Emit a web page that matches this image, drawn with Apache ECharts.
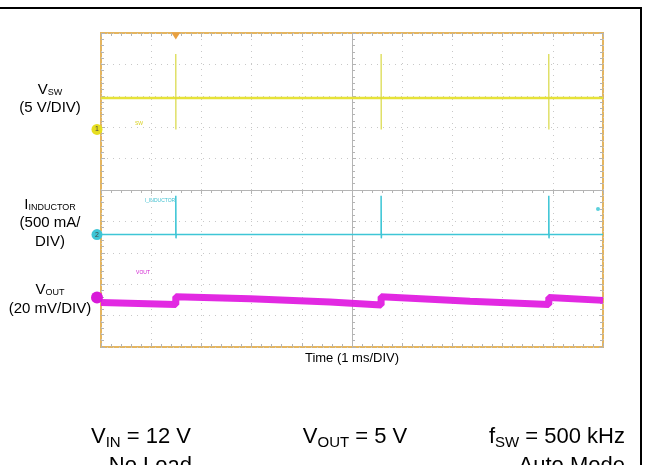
<!DOCTYPE html>
<html><head><meta charset="utf-8">
<script src="https://cdn.jsdelivr.net/npm/echarts@6/dist/echarts.min.js"></script>
<style>html,body{margin:0;padding:0;background:#fff}#c{width:649px;height:465px}</style>
</head><body><div id="c"></div>
<script>
// ---- data read from the scope capture ----
const spikeTimes = [1.49, 5.58, 8.92];          // ms, switching bursts
const vswIdle = 5, vswPeak = 12, vswLow = 0;      // V
const iIdle = 0, iPeak = 0.62, iDip = -0.06;      // A
const voutTimes  = [0, 1.49, 1.49, 2.97, 4.56, 5.58, 5.58, 7.35, 8.92, 8.92, 10];   // ms
const voutValues = [-3.1, -4.4, 0.5, -0.8, -2.8, -4.7, 0.5, -2.4, -4.4, 0.1, -1.8]; // mV (AC)
const leftLabels = [
  {main: 'V', sub: 'SW', lines: ['(5 V/DIV)']},
  {main: 'I', sub: 'INDUCTOR', lines: ['(500 mA/', 'DIV)']},
  {main: 'V', sub: 'OUT', lines: ['(20 mV/DIV)']}
];
const timeLabel = 'Time (1 ms/DIV)';

// ---- scope configuration ----
const HALF = 5;                       // divisions each side of centre
const gndVsw = 1.93, gndI = -1.42, gndVout = -3.425;  // ground markers in divisions
const vswPerDiv = 5, iPerDiv = 0.5, voutPerDiv = 20;
function rng(g, p) { return {min: (-HALF - g) * p, max: (HALF - g) * p}; }

const vswBase = [[0, vswIdle], [10, vswIdle]];
const vswSpk = [];
spikeTimes.forEach(t => { vswSpk.push([t, vswPeak], [t + 0.002, vswLow], [t + 0.002, '-']); });
const iData = [[0, iIdle]];
spikeTimes.forEach(t => { iData.push([t, iIdle], [t, iPeak], [t + 0.004, iDip], [t + 0.008, iIdle]); });
iData.push([10, iIdle]);
const voutData = voutTimes.map((t, i) => [t, voutValues[i]]);

const FONT = '"Liberation Sans", Arial, sans-serif';
const tickC = '#b4b4b4';
function edgeAxis(pos) {
  return {type: 'value', min: -HALF, max: HALF, interval: 1, position: pos,
    axisLine: {show: false, onZero: false}, axisLabel: {show: false}, splitLine: {show: false},
    axisTick: {show: true, inside: true, length: 4, lineStyle: {color: tickC}},
    minorTick: {show: true, splitNumber: 5, length: 3, lineStyle: {color: tickC}}};
}
const dotted = {show: true, lineStyle: {color: '#c8c8c8', type: [1, 5], width: 1}};

const vr = rng(gndVsw, vswPerDiv), ir = rng(gndI, iPerDiv), orr = rng(gndVout, voutPerDiv);

function marker(label, color, size) {
  return {silent: true, symbol: 'circle', symbolSize: size, symbolOffset: [-4, 0],
    itemStyle: {color: color},
    label: {show: true, formatter: label, fontSize: 7, color: '#444', fontFamily: FONT},
    data: [{coord: [0, 0]}]};
}

const graphics = [
  {type: 'line', shape: {x1: 0, y1: 8, x2: 642, y2: 8}, style: {stroke: '#000', lineWidth: 2}},
  {type: 'line', shape: {x1: 641, y1: 8, x2: 641, y2: 465}, style: {stroke: '#000', lineWidth: 2}},
  {type: 'circle', shape: {cx: 598, cy: 209, r: 2}, style: {fill: '#5cd0dc'}},
  {type: 'text', x: 139, y: 124, style: {text: 'SW', fontSize: 5, fill: '#d8d020', align: 'center', verticalAlign: 'middle', fontFamily: FONT}},
  {type: 'text', x: 160, y: 201, style: {text: 'I_INDUCTOR', fontSize: 5, fill: '#40c0d0', align: 'center', verticalAlign: 'middle', fontFamily: FONT}},
  {type: 'text', x: 143, y: 273, style: {text: 'VOUT', fontSize: 5, fill: '#d020d0', align: 'center', verticalAlign: 'middle', fontFamily: FONT}},
  {type: 'text', x: 352, y: 358, style: {text: timeLabel, fontSize: 13, fill: '#000', align: 'center', verticalAlign: 'middle', fontFamily: FONT}}
];
const leftY = [[90, 108], [205, 223, 242], [290, 309]];
leftLabels.forEach((l, k) => {
  graphics.push({type: 'text', x: 50, y: leftY[k][0], style: {
    text: '{m|' + l.main + '}{s|' + l.sub + '}', align: 'center', verticalAlign: 'middle', fill: '#000',
    rich: {m: {fontSize: 15, fontFamily: FONT, fill: '#000'}, s: {fontSize: 9, fontFamily: FONT, padding: [6, 0, 0, 0], fill: '#000'}}}});
  l.lines.forEach((s, j) => graphics.push({type: 'text', x: 50, y: leftY[k][j + 1],
    style: {text: s, fontSize: 15, fontFamily: FONT, fill: '#000', align: 'center', verticalAlign: 'middle'}}));
});
const bRich = {m: {fontSize: 22, fontFamily: FONT, fill: '#000'}, s: {fontSize: 15, fontFamily: FONT, padding: [12, 0, 0, 0], fill: '#000'}};
[[141, 'center', '{m|V}{s|IN}{m| = 12 V}'], [355, 'center', '{m|V}{s|OUT}{m| = 5 V}'], [625, 'right', '{m|f}{s|SW}{m| = 500 kHz}'],
 [192, 'right', '{m|No Load}'], [625, 'right', '{m|Auto Mode}']].forEach((b, k) => {
  graphics.push({type: 'text', x: b[0], y: k < 3 ? 437 : 466, style: {text: b[2], align: b[1], verticalAlign: 'middle', rich: bRich}});
});

const chart = echarts.init(document.getElementById('c'), null, {renderer: 'canvas'});
chart.setOption({
  animation: false,
  backgroundColor: '#fff',
  grid: {left: 101, right: 46, top: 33, bottom: 118, show: true, borderColor: '#e4b560', borderWidth: 2, backgroundColor: '#fff'},
  xAxis: [
    {type: 'value', min: 0, max: 10, interval: 1, axisLine: {show: false, onZero: false}, axisTick: {show: false}, axisLabel: {show: false}, splitLine: dotted},
    {type: 'value', min: -HALF, max: HALF, interval: 1,
      axisLine: {show: true, onZero: true, onZeroAxisIndex: 0, lineStyle: {color: tickC, width: 1}},
      axisTick: {show: true, inside: true, length: 4, lineStyle: {color: tickC}},
      minorTick: {show: true, splitNumber: 5, length: 3, lineStyle: {color: tickC}},
      axisLabel: {show: false}, splitLine: {show: false}},
    edgeAxis('bottom'), edgeAxis('top')
  ],
  yAxis: [
    {type: 'value', min: -HALF, max: HALF, interval: 1, splitLine: dotted, axisLabel: {show: false},
      axisLine: {show: true, onZero: true, onZeroAxisIndex: 1, lineStyle: {color: tickC, width: 1}},
      axisTick: {show: true, inside: true, length: 4, lineStyle: {color: tickC}},
      minorTick: {show: true, splitNumber: 5, length: 3, lineStyle: {color: tickC}}},
    {type: 'value', show: false, min: vr.min, max: vr.max},
    {type: 'value', show: false, min: ir.min, max: ir.max},
    {type: 'value', show: false, min: orr.min, max: orr.max},
    edgeAxis('left'), edgeAxis('right')
  ],
  series: [
    {type: 'line', name: 'VOUT', xAxisIndex: 0, yAxisIndex: 3, data: voutData, showSymbol: false, silent: true,
      lineStyle: {color: '#e01ee0', width: 7, opacity: 0.95}, markPoint: marker('', '#d81ad8', 12)},
    {type: 'line', name: 'IL', xAxisIndex: 0, yAxisIndex: 2, data: iData, showSymbol: false, silent: true,
      lineStyle: {color: '#3ec6d6', width: 1.5}, markPoint: marker('2', '#3ec6d6', 11)},
    {type: 'line', name: 'VSW', xAxisIndex: 0, yAxisIndex: 1, data: vswBase, showSymbol: false, silent: true,
      lineStyle: {color: '#e6e238', width: 2.5}, markPoint: {
        silent: true, data: [
          {coord: [0, 0], symbol: 'circle', symbolSize: 11, symbolOffset: [-4, 0], itemStyle: {color: '#e6de20'},
            label: {show: true, formatter: '1', fontSize: 7, color: '#444', fontFamily: FONT}},
          {coord: [spikeTimes[0], vr.max], symbol: 'triangle', symbolRotate: 180, symbolSize: [9, 7], symbolOffset: [0, 3],
            itemStyle: {color: '#e8a040'}, label: {show: false}}
        ]}},
    {type: 'line', name: 'VSWspk', xAxisIndex: 0, yAxisIndex: 1, data: vswSpk, showSymbol: false, silent: true, connectNulls: false,
      lineStyle: {color: '#d8d840', width: 1.2}}
  ],
  graphic: graphics
});
</script></body></html>
